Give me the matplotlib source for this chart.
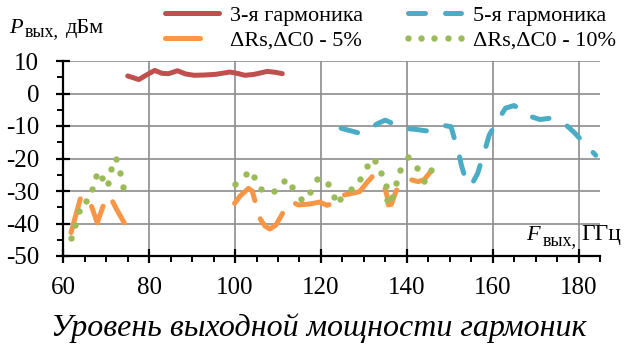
import matplotlib
matplotlib.use('Agg')
import matplotlib.pyplot as plt
import numpy as np

plt.rcParams['font.family'] = ['Liberation Serif', 'DejaVu Serif']
plt.rcParams['axes.unicode_minus'] = False

# 3-я гармоника
x_h3 = [75.0, 77.6, 79.5, 81.3, 83.0, 84.5, 86.6, 88.5, 90.5, 93.0, 95.5, 98.8, 100.5, 102.3, 104.5, 107.5, 109.5, 111.0]
y_h3 = [5.4, 4.3, 5.8, 7.1, 6.2, 6.1, 7.0, 6.0, 5.6, 5.7, 5.9, 6.6, 6.2, 5.6, 5.9, 6.8, 6.5, 6.1]

# 5-я гармоника
x_h5 = [124.7, 129.0, 131.0, 133.3, 135.0, 137.5, 139.5, 141.8, 144.5, 146.4, 148.5, 150.3, 151.5, 152.2,
        152.7, 153.9, 155.0, 156.5, 157.8, 158.5, 159.2, 161.5, 163.0, 165.0, 168.7, 171.0, 173.5, 177.2,
        179.0, 181.0, 184.0]
y_h5 = [-10.7, -12.2, -11.0, -9.2, -8.2, -9.7, -10.8, -11.0, -11.5, -10.7, -9.8, -10.2, -15.8, -19.0,
        -22.0, -27.3, -28.3, -24.6, -19.0, -16.0, -12.8, -7.6, -4.5, -3.7, -7.0, -8.0, -7.6, -9.8,
        -12.0, -14.8, -19.0]

# dRs, dC0 - 5%
x_d5 = [61.8, 63.0, 64.1, 65.2, 66.6, 67.9, 69.5, 70.8, 72.4, 74.2, np.nan,
        99.9, 101.2, 102.3, 103.1, 104.0, 104.6, 105.3, 105.9, 107.0, 108.1, 109.5, 111.2, 112.3,
        113.3, 114.7, 117.4, 119.7, 121.4, 123.0, 124.5, 125.5, 127.0, 129.0, 130.6, 132.0, 133.5,
        134.8, 135.4, 135.7, 136.4, 137.5, 139.1, 140.6, 142.6, 144.0, 145.7]
y_d5 = [-42.8, -37.0, -31.8, -31.5, -34.8, -39.8, -33.8, -31.5, -35.6, -39.8, np.nan,
        -33.8, -31.5, -30.2, -29.2, -30.0, -32.8, -36.0, -38.7, -40.8, -41.7, -40.5, -36.6, -34.5,
        -33.3, -34.3, -34.0, -33.4, -34.4, -33.8, -33.0, -31.2, -30.8, -30.2, -27.6, -25.5, -26.4,
        -28.7, -31.5, -34.3, -34.1, -30.0, -27.6, -26.4, -27.1, -26.6, -23.8]

# dRs, dC0 - 10%
x_d10 = [61.9, 62.8, 63.6, 65.4, 66.8, 67.6, 69.0, 70.5, 71.2, 72.3, 73.2, 74.0,
         100.0, 102.6, 104.4, 106.1, 109.0, 111.3, 113.3, 115.3, 117.4, 119.2, 121.6, 123.0, 124.5,
         127.0, 129.2, 130.7, 132.5, 134.1, 135.2, 135.4, 136.6, 137.6, 138.5, 140.2, 142.3, 144.0, 145.7]
y_d10 = [-44.6, -40.4, -36.0, -33.1, -29.5, -25.3, -26.1, -27.6, -23.3, -20.2, -24.5, -28.8,
         -27.7, -24.9, -25.8, -29.4, -30.1, -26.9, -28.8, -32.4, -30.2, -26.4, -27.9, -31.9, -32.5,
         -29.5, -26.4, -22.3, -20.7, -24.4, -28.5, -32.8, -31.8, -27.6, -23.4, -19.6, -23.0, -26.8, -23.6]

labels = ['3-я гармоника', 'ΔRs,ΔC0 - 5%', '5-я гармоника', 'ΔRs,ΔC0 - 10%']
W, H = 628, 344

fig = plt.figure(figsize=(W / 100, H / 100), dpi=100)
ax = fig.add_axes([63.3 / W, 1 - 256 / H, (600 - 63.3) / W, (256 - 61) / H])

l1, = ax.plot(x_h3, y_h3, color='#C0504D', lw=3.6, solid_capstyle='round', solid_joinstyle='round')
l2, = ax.plot(x_d5, y_d5, color='#F79646', lw=3.6, ls=(0, (7.0, 3.8)), dash_capstyle='round', dash_joinstyle='round')
l3, = ax.plot(x_h5, y_h5, color='#4BACC6', lw=3.6, ls=(0, (3.4, 4.0)), dash_capstyle='round', dash_joinstyle='round')
l4, = ax.plot(x_d10, y_d10, color='#9BBB59', ls='none', marker='o', ms=4.6, mew=0)

ax.set_xlim(60, 185)
ax.set_ylim(-50, 10)
ax.set_xticks(np.arange(60, 181, 20))
ax.set_xticks(np.arange(60, 186, 5), minor=True)
ax.set_yticks(np.arange(-50, 11, 10))
ax.set_yticks(np.arange(-50, 11, 5), minor=True)
ax.grid(True, which='major', color='#8c8c8c', lw=1.2)
ax.set_axisbelow(True)
for s in ['top', 'right']:
    ax.spines[s].set_visible(False)
for s in ['left', 'bottom']:
    ax.spines[s].set_linewidth(1.6)
    ax.spines[s].set_zorder(5)
ax.tick_params(which='major', direction='inout', length=10.5, width=1.6, labelsize=18)
ax.tick_params(which='minor', direction='out', length=4.5, width=1.4)
ax.tick_params(axis='y', which='major', pad=12)
ax.tick_params(axis='x', which='major', pad=10)

leg = fig.legend([l1, l2, l3, l4], labels, ncol=2, loc='upper left', bbox_to_anchor=(158.5 / W, 1 - 5 / H),
                 frameon=False, fontsize=16, handlelength=3.0, handletextpad=0.22, columnspacing=1.7,
                 labelspacing=0.2, borderpad=0, borderaxespad=0, numpoints=5)

# axis labels
fig.text(9 / W, 1 - 33 / H, 'P', fontsize=16, style='italic', va='baseline')
fig.text(25 / W, 1 - 36 / H, 'вых,', fontsize=13, va='baseline')
fig.text(66 / W, 1 - 33 / H, 'дБм', fontsize=16, va='baseline')

fig.text(526 / W, 1 - 240 / H, 'F', fontsize=16, style='italic', va='baseline')
fig.text(543 / W, 1 - 245 / H, 'вых,', fontsize=13, va='baseline')
fig.text(581 / W, 1 - 240 / H, 'ГГц', fontsize=17, va='baseline')

fig.text(318.5 / W, 1 - 336 / H, 'Уровень выходной мощности гармоник', fontsize=23, style='italic',
         ha='center', va='baseline')

plt.savefig('out.png', dpi=100)
